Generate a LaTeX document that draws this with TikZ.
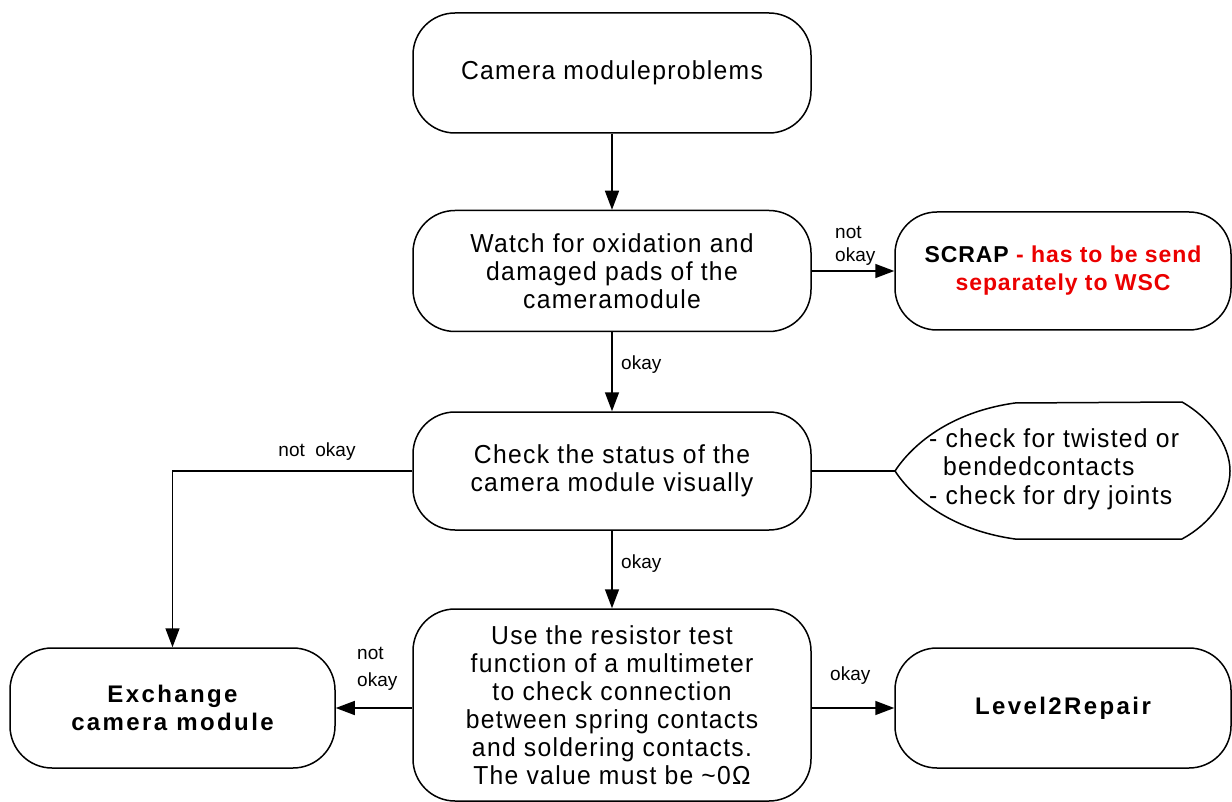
\documentclass[tikz,border=0pt]{standalone}
\usepackage{fontspec}
\setmainfont{Liberation Sans}[LetterSpace=5, FakeStretch=0.95]
\newfontfamily\bsp{Liberation Sans}[LetterSpace=10]
\newfontfamily\bscrap{Liberation Sans}[LetterSpace=4]
\newfontfamily\lab{Liberation Sans}
\usetikzlibrary{arrows.meta}
\definecolor{scrapred}{RGB}{235,0,0}
\begin{document}
\begin{tikzpicture}[x=1pt,y=-1pt,
  box/.style={draw, line width=1.5pt, rounded corners=42pt, align=center, inner sep=0pt, fill=white,
    font=\fontsize{26}{28}\selectfont},
  bbox/.style={box, font=\bsp\bfseries\fontsize{24}{28}\selectfont},
  arr/.style={line width=1.5pt, -{Triangle[length=19pt,width=14pt]}},
  conn/.style={line width=1.5pt},
  lbl/.style={font=\lab\fontsize{19}{26}\selectfont, inner sep=0pt}
]
\fill[white] (0,0) rectangle (1232,802);
\useasboundingbox (0,0) rectangle (1232,802);

% nodes
\node[box, minimum width=398pt, minimum height=120pt] (n1) at (612,73) {Camera moduleproblems};
\node[box, minimum width=398pt, minimum height=121pt] (n2) at (612,271) {Watch for oxidation and\\damaged pads of the\\cameramodule};
\node[box, minimum width=336pt, minimum height=118pt,
  font=\bscrap\bfseries\fontsize{23}{28}\selectfont] (scrap) at (1063,271)
  {SCRAP \textcolor{scrapred}{- has to be send}\\\textcolor{scrapred}{separately to WSC}};
\node[box, minimum width=398pt, minimum height=118pt] (n3) at (612,471) {Check the status of the\\camera module visually};
\node[box, minimum width=398pt, minimum height=192pt] (n4) at (612,705) {Use the resistor test\\function of a multimeter\\to check connection\\between spring contacts\\and soldering contacts.\\The value must be \textasciitilde0Ω};
\node[bbox, minimum width=325pt, minimum height=120pt] (exch) at (172.5,708) {Exchange\\camera module};
\node[bbox, minimum width=336pt, minimum height=120pt] (lvl) at (1063,708) {Level2Repair};

% annotation shape
\coordinate (notel) at (895,471);
\draw[conn] (notel) .. controls (912,445) and (950,412) .. (1015,403) -- (1182,402)
  .. controls (1210,418) and (1230,445) .. (1230,471)
  .. controls (1230,497) and (1210,524) .. (1182,539) -- (1015,539)
  .. controls (950,530) and (912,497) .. (notel) -- cycle;
\node[anchor=west, align=left, inner sep=0pt, font=\fontsize{26}{28.5}\selectfont] (note) at (929,469)
  {- check for twisted or\\\hspace*{14pt}bendedcontacts\\- check for dry joints};

% connectors
\draw[arr] (n1) -- (n2);
\draw[arr] (n2) -- (scrap);
\draw[arr] (n2) -- (n3);
\draw[conn] (n3.east) -- (notel);
\draw[arr] (n3.west) -| (exch.north);
\draw[arr] (n3) -- (n4);
\draw[arr] (n4.west |- exch.east) -- (exch.east);
\draw[arr] (n4.east |- lvl.west) -- (lvl.west);

% labels
\node[lbl, anchor=west] (l1a) at (835,232) {not};
\node[lbl, anchor=west] (l1b) at (835,257) {okay};
\node[lbl, anchor=west] (l2) at (621,365) {okay};
\node[lbl] (l3) at (317,452) {not\ \ okay};
\node[lbl, anchor=west] (l4) at (621,564) {okay};
\node[lbl, anchor=west] (l5a) at (357,653) {not};
\node[lbl, anchor=west] (l5b) at (357,682) {okay};
\node[lbl, anchor=west] (l6) at (830,676) {okay};
\end{tikzpicture}
\end{document}
